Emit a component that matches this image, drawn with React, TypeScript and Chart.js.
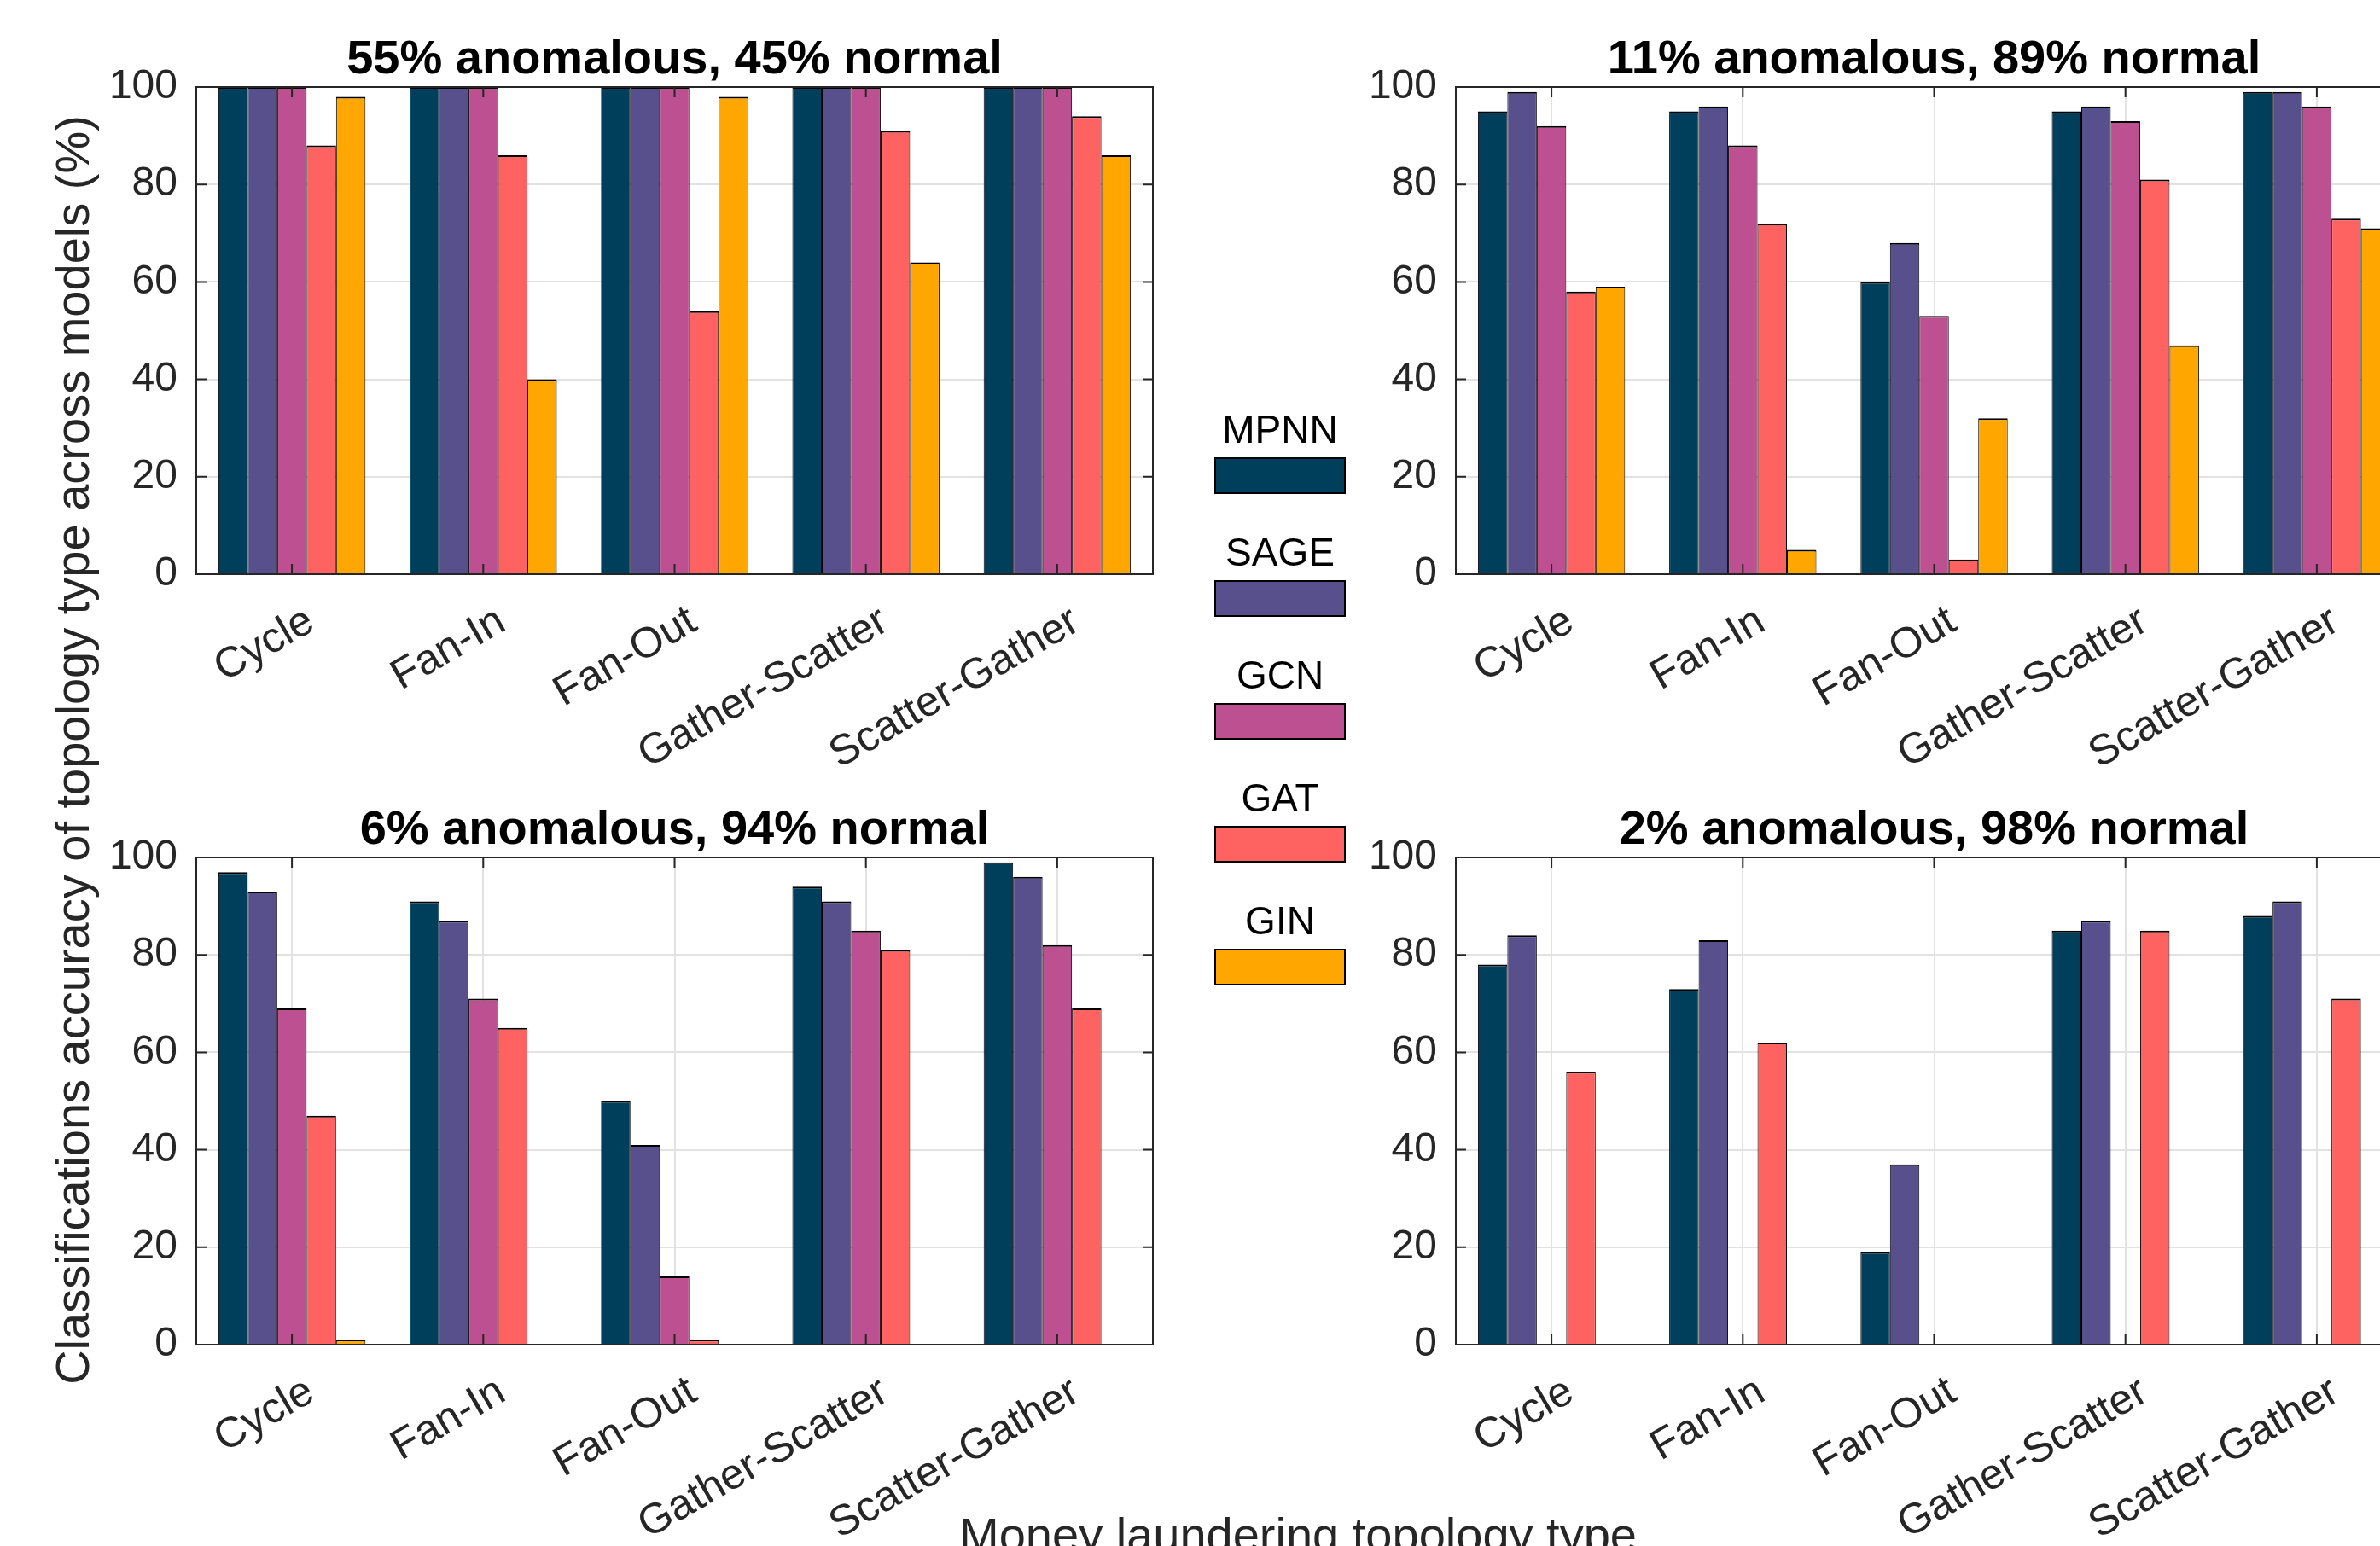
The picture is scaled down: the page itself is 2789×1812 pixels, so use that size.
import React, { useEffect, useRef } from 'react';
import { Chart, registerables } from 'chart.js';

Chart.register(...registerables);

// ---------------- data ----------------
const categories = ['Cycle', 'Fan-In', 'Fan-Out', 'Gather-Scatter', 'Scatter-Gather'];
const models = ['MPNN', 'SAGE', 'GCN', 'GAT', 'GIN'];
const yTicks = [0, 20, 40, 60, 80, 100];

const panelTitles = [
  '55% anomalous, 45% normal',
  '11% anomalous, 89% normal',
  '6% anomalous, 94% normal',
  '2% anomalous, 98% normal',
];

// rows: MPNN, SAGE, GCN, GAT, GIN ; columns follow `categories`
const acc55 = [
  [100, 100, 100, 100, 100],
  [100, 100, 100, 100, 100],
  [100, 100, 100, 100, 100],
  [88, 86, 54, 91, 94],
  [98, 40, 98, 64, 86],
];
const acc11 = [
  [95, 95, 60, 95, 99],
  [99, 96, 68, 96, 99],
  [92, 88, 53, 93, 96],
  [58, 72, 3, 81, 73],
  [59, 5, 32, 47, 71],
];
const acc6 = [
  [97, 91, 50, 94, 99],
  [93, 87, 41, 91, 96],
  [69, 71, 14, 85, 82],
  [47, 65, 1, 81, 69],
  [1, 0, 0, 0, 0],
];
const acc2 = [
  [78, 73, 19, 85, 88],
  [84, 83, 37, 87, 91],
  [0, 0, 0, 0, 0],
  [56, 62, 0, 85, 71],
  [0, 0, 0, 0, 0],
];
const panelData = [acc55, acc11, acc6, acc2];

const yAxisTitle = 'Classifications accuracy of topology type across models (%)';
const xAxisTitle = 'Money laundering topology type';

// ---------------- styles / layout ----------------
const modelColors = ['#003f5c', '#58508d', '#bc5090', '#ff6361', '#ffa600'];
const FONT = "'Liberation Sans', Arial, Helvetica, sans-serif";
const AXIS_COLOR = '#262626';
const GRID_COLOR = '#e2e2e2';
const Y_AXIS_W = 130;
const X_AXIS_H = 236;
const PLOT_W = 1121;
const RIGHT_PAD = 4;
const CANVAS_W = Y_AXIS_W + PLOT_W + RIGHT_PAD;
const CANVAS_H = 909;
const panelPos = [
  { left: 100, top: 0 },
  { left: 1576, top: 0 },
  { left: 100, top: 903 },
  { left: 1576, top: 903 },
];

Chart.defaults.font.family = FONT;

const framePlugin = {
  id: 'matlabFrame',
  afterDatasetsDraw(chart: any) {
    const { ctx, chartArea: a, scales } = chart;
    ctx.save();
    ctx.strokeStyle = AXIS_COLOR;
    ctx.lineWidth = 2;
    ctx.strokeRect(a.left, a.top, a.right - a.left, a.bottom - a.top);
    const tl = 12;
    ctx.beginPath();
    yTicks.forEach((v) => {
      const y = scales.y.getPixelForValue(v);
      ctx.moveTo(a.left, y);
      ctx.lineTo(a.left + tl, y);
      ctx.moveTo(a.right, y);
      ctx.lineTo(a.right - tl, y);
    });
    categories.forEach((_, i) => {
      const x = scales.x.getPixelForValue(i);
      ctx.moveTo(x, a.bottom);
      ctx.lineTo(x, a.bottom - tl);
      ctx.moveTo(x, a.top);
      ctx.lineTo(x, a.top + tl);
    });
    ctx.stroke();
    ctx.restore();
  },
};

function Panel({ title, values, left, top }: { title: string; values: number[][]; left: number; top: number }) {
  const ref = useRef<HTMLCanvasElement>(null);
  useEffect(() => {
    const chart = new Chart(ref.current as HTMLCanvasElement, {
      type: 'bar',
      data: {
        labels: categories,
        datasets: models.map((m, i) => ({
          label: m,
          data: values[i],
          backgroundColor: modelColors[i],
          borderColor: '#000000',
          borderWidth: { top: 2, left: 1, right: 1, bottom: 0 },
          inflateAmount: 0,
          categoryPercentage: 0.769,
          barPercentage: 1,
        })),
      },
      options: {
        responsive: false,
        animation: false,
        devicePixelRatio: 1,
        layout: { padding: { left: 0, right: RIGHT_PAD, top: 0, bottom: 0 } },
        plugins: {
          legend: { display: false },
          tooltip: { enabled: false },
          title: {
            display: true,
            text: title,
            color: '#000000',
            fullSize: false,
            font: { size: 56, weight: 'bold', lineHeight: 1, family: FONT },
            padding: { top: 42.6, bottom: 3.4 },
          },
        },
        scales: {
          x: {
            type: 'category',
            offset: true,
            grid: { offset: false, color: GRID_COLOR, lineWidth: 2, drawTicks: false },
            border: { display: false },
            ticks: {
              autoSkip: false,
              minRotation: 30,
              maxRotation: 30,
              padding: 26,
              labelOffset: 22,
              color: AXIS_COLOR,
              font: { size: 50, family: FONT },
            },
            afterFit: (s: any) => {
              s.height = X_AXIS_H;
            },
          },
          y: {
            min: 0,
            max: 100,
            grid: { color: GRID_COLOR, lineWidth: 2, drawTicks: false },
            border: { display: false },
            ticks: {
              padding: 22,
              color: AXIS_COLOR,
              font: { size: 48, family: FONT },
            },
            afterBuildTicks: (s: any) => {
              s.ticks = yTicks.map((v) => ({ value: v }));
            },
            afterFit: (s: any) => {
              s.width = Y_AXIS_W;
            },
          },
        },
      } as any,
      plugins: [framePlugin],
    });
    return () => chart.destroy();
  }, [title, values]);
  return (
    <canvas
      ref={ref}
      width={CANVAS_W}
      height={CANVAS_H}
      style={{ position: 'absolute', left, top, width: CANVAS_W, height: CANVAS_H }}
    />
  );
}

export default function App() {
  return (
    <div
      style={{
        position: 'fixed',
        left: 0,
        top: 0,
        width: 2789,
        height: 1812,
        overflow: 'hidden',
        background: '#ffffff',
        fontFamily: FONT,
      }}
    >
      {panelTitles.map((t, i) => (
        <Panel key={t} title={t} values={panelData[i]} left={panelPos[i].left} top={panelPos[i].top} />
      ))}

      {/* shared legend */}
      {models.map((m, i) => (
        <React.Fragment key={m}>
          <div
            style={{
              position: 'absolute',
              left: 1400,
              top: 480 + i * 144,
              width: 200,
              textAlign: 'center',
              fontSize: 46,
              lineHeight: '46px',
              color: '#000000',
              whiteSpace: 'nowrap',
            }}
          >
            {m}
          </div>
          <div
            style={{
              position: 'absolute',
              left: 1423,
              top: 536 + i * 144,
              width: 154,
              height: 43,
              background: modelColors[i],
              border: '2px solid #000000',
              boxSizing: 'border-box',
            }}
          />
        </React.Fragment>
      ))}

      {/* shared y-axis title */}
      <div
        style={{
          position: 'absolute',
          left: 85 - 900,
          top: 879 - 28,
          width: 1800,
          textAlign: 'center',
          fontSize: 56,
          lineHeight: '56px',
          color: AXIS_COLOR,
          whiteSpace: 'nowrap',
          transform: 'rotate(-90deg)',
          transformOrigin: '50% 50%',
        }}
      >
        {yAxisTitle}
      </div>

      {/* shared x-axis title */}
      <div
        style={{
          position: 'absolute',
          left: 1521 - 600,
          top: 1771,
          width: 1200,
          textAlign: 'center',
          fontSize: 56,
          lineHeight: '56px',
          color: AXIS_COLOR,
          whiteSpace: 'nowrap',
        }}
      >
        {xAxisTitle}
      </div>
    </div>
  );
}
